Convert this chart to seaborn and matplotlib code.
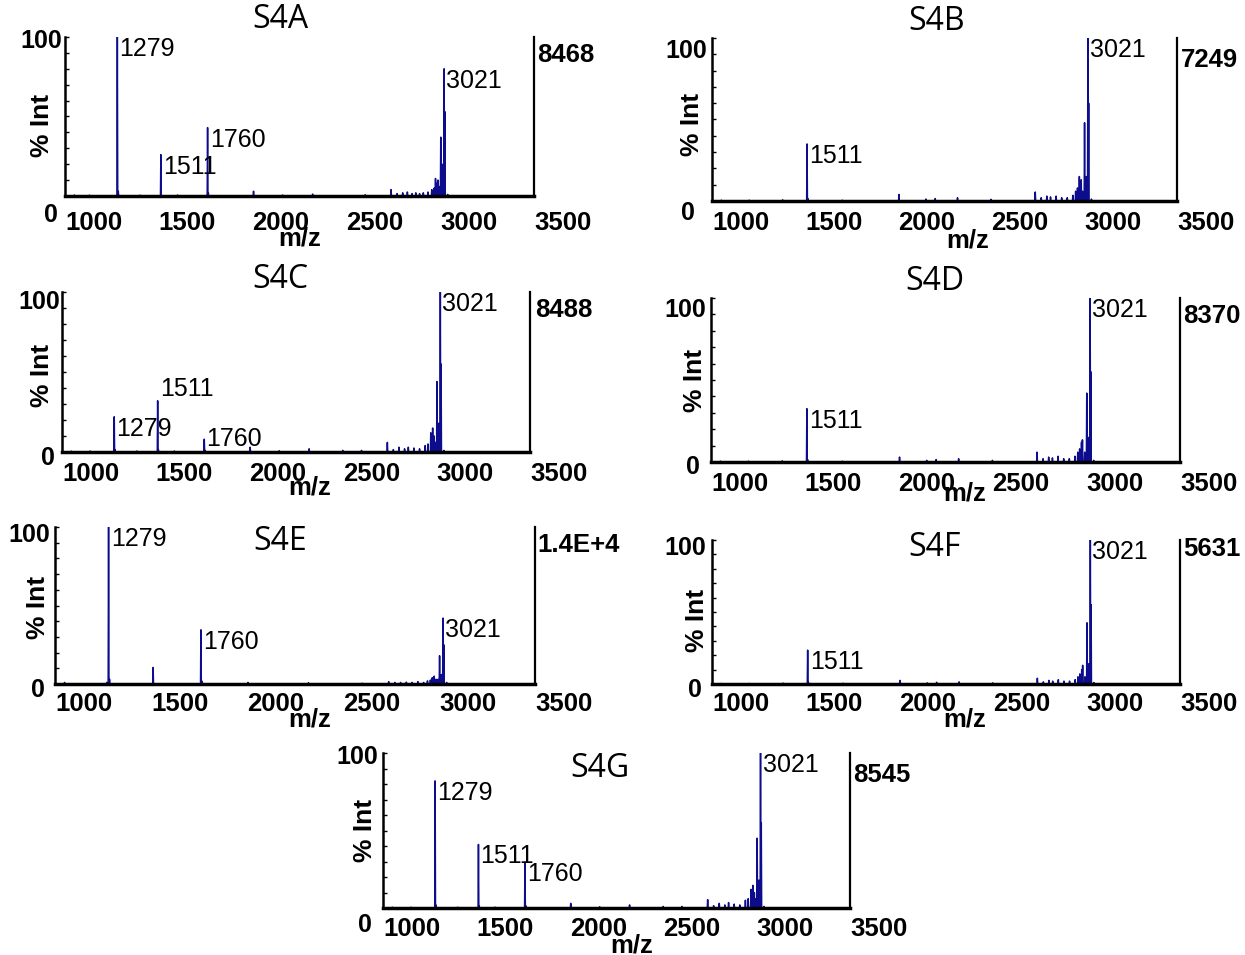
import matplotlib
matplotlib.use("Agg")
import matplotlib.pyplot as plt
import numpy as np
import pandas as pd
import seaborn as sns

W, H, DPI = 1245, 955, 100
NAVY = "#0c0c8c"

sns.set_theme(style="white")
plt.rcParams["font.family"] = ["Liberation Sans", "DejaVu Sans"]
plt.rcParams["text.color"] = "black"
plt.rcParams["axes.labelcolor"] = "black"
plt.rcParams["xtick.color"] = "black"
plt.rcParams["ytick.color"] = "black"

# ---------------- data ----------------
panels = ["S4A", "S4B", "S4C", "S4D", "S4E", "S4F", "S4G"]
totals = ["8468", "7249", "8488", "8370", "1.4E+4", "5631", "8545"]
x_ticks = [1000, 1500, 2000, 2500, 3000, 3500]
x_tick_labels = ["1000", "1500", "2000", "2500", "3000", "3500"]

mz_A = [1050, 1130, 1279, 1284, 1400, 1511, 1600, 1760, 1764, 2005, 2160, 2320, 2600, 2738, 2770, 2800, 2825, 2850,
        2870, 2890, 2910, 2935, 2955, 2968, 2975, 2981, 2988, 2995, 3003, 3011, 3021, 3025, 3040]
int_A = [0.6, 0.5, 100, 3, 0.5, 26, 0.6, 43, 2, 3, 0.6, 1.2, 0.8, 4, 1.5, 2, 2.5, 1.5,
         2, 1.5, 2, 2.5, 4, 5, 11, 8, 10, 6, 37, 20, 80, 53, 1]

mz_B = [1050, 1200, 1380, 1511, 1515, 1700, 2005, 2150, 2200, 2320, 2500, 2738, 2770, 2800, 2820, 2850, 2880,
        2910, 2940, 2955, 2965, 2975, 2985, 2992, 3003, 3012, 3021, 3025, 3040]
int_B = [0.5, 0.5, 0.7, 35, 1.5, 0.5, 4, 1.2, 1.5, 2, 1, 5.5, 2, 3, 2.5, 3, 2,
         2, 3.5, 6, 8, 15, 13, 6, 48, 15, 100, 60, 1.2]

mz_C = [1050, 1150, 1279, 1283, 1400, 1511, 1515, 1600, 1760, 1764, 2005, 2160, 2320, 2500, 2600, 2738, 2770,
        2800, 2830, 2850, 2880, 2910, 2940, 2955, 2970, 2980, 2988, 2995, 3003, 3012, 3021, 3025, 3040]
int_C = [0.5, 0.6, 22, 1.5, 0.6, 32, 1.5, 0.6, 8, 1, 3, 0.8, 2, 1, 1, 6, 1.5,
         3, 2, 3, 2.5, 2, 4, 5, 12, 15, 10, 6, 44, 18, 100, 55, 1]

mz_D = [1050, 1200, 1380, 1511, 1515, 1700, 2005, 2150, 2200, 2320, 2500, 2738, 2770, 2800, 2820, 2850, 2880,
        2910, 2940, 2955, 2965, 2975, 2980, 2992, 3003, 3012, 3021, 3025, 3040]
int_D = [0.5, 0.5, 0.7, 32.5, 1.5, 0.5, 3, 1, 1.5, 2, 1, 6, 2, 3, 2.5, 3.5, 2,
         2, 3.5, 6, 8, 12, 13.5, 6, 42, 15, 100, 55, 1]

mz_E = [1050, 1270, 1279, 1284, 1511, 1760, 1764, 2005, 2320, 2600, 2738, 2770, 2800, 2830, 2860, 2890, 2920,
        2940, 2955, 2965, 2975, 2985, 2995, 3003, 3012, 3021, 3025, 3040]
int_E = [1, 1, 100, 3, 10.5, 34.5, 2, 1, 0.8, 0.5, 1.5, 1, 1, 1.2, 1, 1.5, 1,
         2, 2.5, 4, 5, 3, 3, 18, 6, 42, 25, 1]

mz_F = [1050, 1200, 1380, 1511, 1515, 1700, 2005, 2150, 2200, 2320, 2500, 2738, 2770, 2800, 2820, 2850, 2880,
        2910, 2940, 2955, 2965, 2975, 2980, 2992, 3003, 3012, 3021, 3025, 3040]
int_F = [0.4, 0.4, 0.6, 23.5, 1.2, 0.5, 2.5, 0.8, 1.2, 1.5, 0.8, 4, 1.5, 2.5, 2, 3, 2,
         2, 3, 5, 7, 10, 13, 5, 42.5, 14, 100, 55, 1]

mz_G = [1050, 1150, 1279, 1283, 1400, 1511, 1515, 1600, 1760, 1764, 2005, 2160, 2320, 2500, 2600, 2738, 2770,
        2800, 2830, 2850, 2880, 2910, 2940, 2955, 2970, 2980, 2988, 2995, 3003, 3012, 3021, 3025, 3040]
int_G = [0.5, 0.5, 82, 2, 0.5, 41, 1.5, 0.5, 29.5, 1.5, 3, 0.8, 2, 1, 1, 5.4, 1.5,
         3, 2, 3.5, 2.5, 2, 5, 6, 12, 14.6, 10, 6, 45, 18, 100, 55, 1]

labels_A = [1279, 1511, 1760, 3021]
labels_B = [1511, 3021]
labels_C = [1279, 1511, 1760, 3021]
labels_D = [1511, 3021]
labels_E = [1279, 1760, 3021]
labels_F = [1511, 3021]
labels_G = [1279, 1511, 1760, 3021]

spectra = {
    "S4A": (mz_A, int_A, labels_A), "S4B": (mz_B, int_B, labels_B), "S4C": (mz_C, int_C, labels_C),
    "S4D": (mz_D, int_D, labels_D), "S4E": (mz_E, int_E, labels_E), "S4F": (mz_F, int_F, labels_F),
    "S4G": (mz_G, int_G, labels_G),
}

# ---------------- layout (pixels) ----------------
layout = {
    "S4A": dict(rect=(65, 534, 37, 196), title=(280, 20), mz=(300, 238), total=(537, 55), yl=(42, 125),
                y100=(62, 41), y0=(58, 215), xpad=15),
    "S4B": dict(rect=(712, 1177, 38, 201), title=(937, 22), mz=(968, 240), total=(1181, 60), yl=(692, 124),
                y100=(707, 51), y0=(695, 213), xpad=10),
    "S4C": dict(rect=(62, 530, 292, 452), title=(280, 280), mz=(310, 487), total=(535, 310), yl=(42, 375),
                y100=(60, 302), y0=(55, 458), xpad=10),
    "S4D": dict(rect=(711, 1180, 298, 462), title=(935, 282), mz=(965, 493), total=(1183, 316), yl=(695, 380),
                y100=(706, 310), y0=(700, 467), xpad=10),
    "S4E": dict(rect=(55, 535, 527, 684), title=(280, 541), mz=(310, 719), total=(537, 545), yl=(38, 607),
                y100=(50, 535), y0=(45, 690), xpad=8),
    "S4F": dict(rect=(712, 1180, 540, 684), title=(935, 548), mz=(965, 719), total=(1183, 549), yl=(697, 620),
                y100=(706, 548), y0=(702, 690), xpad=8),
    "S4G": dict(rect=(383, 850, 753, 908), title=(600, 768), mz=(632, 945), total=(853, 775), yl=(365, 830),
                y100=(378, 757), y0=(372, 925), xpad=9),
}
label_va = {("S4C", 1511): "bottom", ("S4C", 1760): "center"}

TITLE_FONT = ["Open Sans", "DejaVu Sans"]


def sticks(mz, inten):
    rows = []
    for m, h in sorted(zip(mz, inten)):
        rows += [(m - 2, 0.0), (m, h), (m + 2, 0.0)]
    return pd.DataFrame(rows, columns=["mz", "pct"])


fig = plt.figure(figsize=(W / DPI, H / DPI), dpi=DPI)

for name, total in zip(panels, totals):
    lay = layout[name]
    L, R, T, B = lay["rect"]
    ax = fig.add_axes([L / W, 1 - B / H, (R - L) / W, (B - T) / H])
    mz, inten, labs = spectra[name]
    sns.lineplot(data=sticks(mz, inten), x="mz", y="pct", sort=False, estimator=None,
                 color=NAVY, lw=1.1, ax=ax)
    ax.set_xlim(1000, 3500)
    ax.set_ylim(0, 100)
    ax.set_facecolor("white")
    ax.grid(False)

    # spines
    ax.spines["top"].set_visible(False)
    for s, lw in (("left", 1.8), ("bottom", 2.5), ("right", 1.6)):
        ax.spines[s].set_visible(True)
        ax.spines[s].set_color("black")
        ax.spines[s].set_linewidth(lw)

    # x ticks: labels start at tick value
    ax.set_xticks(x_ticks, x_tick_labels, ha="left", fontsize=18.5, fontweight="bold", color="black")
    ax.tick_params(axis="x", length=0, pad=lay["xpad"] * 72 / DPI, labelcolor="black")

    # y ticks: inward minor ticks every 10
    ax.set_yticks([0, 100], ["", ""])
    ax.set_yticks(np.arange(10, 100, 10), minor=True)
    ax.tick_params(axis="y", which="both", direction="in", length=3, width=1, color="black", left=True)

    ax.set_xlabel("")
    ax.set_ylabel("")

    # "0" and "100" labels
    fig.text(lay["y100"][0] / W, 1 - lay["y100"][1] / H, "100", ha="right", va="center",
             fontsize=18, fontweight="bold", color="black")
    fig.text(lay["y0"][0] / W, 1 - lay["y0"][1] / H, "0", ha="right", va="center",
             fontsize=18, fontweight="bold", color="black")
    # axis titles
    fig.text(lay["yl"][0] / W, 1 - lay["yl"][1] / H, "% Int", rotation=90, ha="center", va="center",
             fontsize=19, fontweight="bold", color="black")
    fig.text(lay["mz"][0] / W, 1 - lay["mz"][1] / H, "m/z", ha="center", va="center",
             fontsize=18.5, fontweight="bold", color="black")
    fig.text(lay["total"][0] / W, 1 - lay["total"][1] / H, total, ha="left", va="center",
             fontsize=18.5, fontweight="bold", color="black")
    fig.text(lay["title"][0] / W, 1 - lay["title"][1] / H, name, ha="center", va="center",
             fontsize=23, family=TITLE_FONT, color="black")

    # peak labels
    lookup = dict(zip(mz, inten))
    for m in labs:
        va = label_va.get((name, m), "top")
        ax.annotate(str(m), (m, lookup[m]), xytext=(1.5, 0), textcoords="offset points",
                    ha="left", va=va, fontsize=18, color="black", annotation_clip=False)

fig.savefig("out.png", dpi=DPI, facecolor="white")
